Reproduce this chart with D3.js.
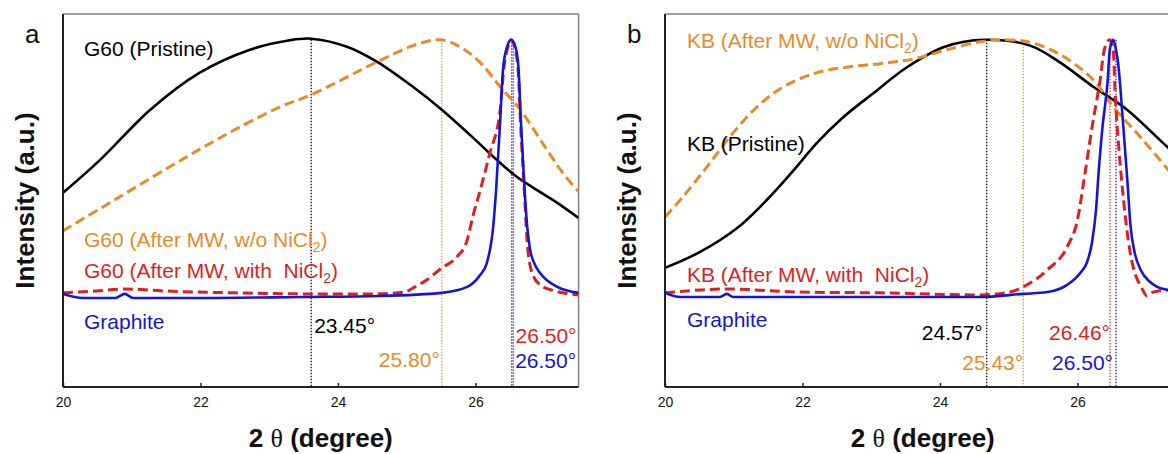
<!DOCTYPE html>
<html>
<head>
<meta charset="utf-8">
<script src="https://cdn.jsdelivr.net/npm/d3@7"></script>
<style>
body{margin:0;background:#fff}
svg{display:block}
text{font-family:"Liberation Sans",Arial,sans-serif}
</style>
</head>
<body>
<svg id="chart" width="1168" height="454"></svg>
<script>
// x ticks (2 theta, degree)
const xTicks = [20, 22, 24, 26]

// panel a: G60 samples, normalised intensity vs 2 theta
const g60Pristine = [[20,0.405],[20.54,0.533],[21.27,0.728],[21.99,0.872],[22.72,0.961],[23.3,0.998],[23.61,1.004],[24.13,0.973],[24.57,0.914],[25.09,0.817],[25.51,0.728],[25.92,0.63],[26.31,0.533],[26.6,0.467],[26.89,0.416],[27.19,0.366],[27.5,0.307]]
const g60MW = [[20,0.257],[20.73,0.374],[21.8,0.545],[22.47,0.646],[23.16,0.739],[23.61,0.786],[24.57,0.914],[25.09,0.977],[25.48,1.0],[25.77,0.973],[26.07,0.911],[26.36,0.817],[26.65,0.728],[27.04,0.572],[27.27,0.482],[27.5,0.409]]
const g60MWNi = [[20,0.016],[20.49,0.023],[20.9,0.031],[21.5,0.023],[22.5,0.016],[23.49,0.012],[24.49,0.012],[24.97,0.019],[25.09,0.035],[25.29,0.066],[25.51,0.113],[25.73,0.156],[25.88,0.222],[25.96,0.311],[26.07,0.416],[26.21,0.56],[26.36,0.728],[26.41,0.883],[26.47,0.969],[26.52,1.0],[26.57,0.969],[26.62,0.883],[26.66,0.65],[26.71,0.416],[26.75,0.222],[26.81,0.105],[26.94,0.047],[27.16,0.023],[27.5,0.008]]
const graphiteA = [[20,0.012],[20.29,-0.004],[20.76,-0.004],[20.9,0.012],[21.02,-0.004],[21.99,-0.004],[23.45,0.0],[24.61,0.004],[25.51,0.016],[25.88,0.039],[26.07,0.086],[26.16,0.128],[26.21,0.183],[26.25,0.253],[26.3,0.416],[26.36,0.689],[26.4,0.883],[26.46,0.973],[26.52,1.0],[26.57,0.981],[26.62,0.911],[26.66,0.689],[26.71,0.436],[26.75,0.28],[26.79,0.191],[26.86,0.128],[26.94,0.093],[27.19,0.039],[27.5,0.016]]
const peakPosA = [23.61, 25.51, 26.525, 26.548]
const peakTopA = [1.0, 1.0, 0.99, 0.99]
const peakTextA = ['23.45°', '25.80°', '26.50°', '26.50°']

// panel b: KB samples
const kbPristine = [[20,0.113],[20.51,0.175],[21.05,0.268],[21.48,0.377],[21.85,0.486],[22.21,0.599],[22.58,0.696],[23.02,0.79],[23.53,0.895],[24.07,0.973],[24.65,1.0],[25.31,0.977],[25.75,0.911],[26.23,0.817],[26.72,0.728],[27.32,0.58],[27.5,0.541]]
const kbMW = [[20,0.311],[20.26,0.389],[20.61,0.506],[20.99,0.638],[21.34,0.739],[21.72,0.817],[22.21,0.872],[22.69,0.895],[23.13,0.907],[23.61,0.925],[24.1,0.961],[24.58,0.992],[24.87,1.0],[25.31,0.99],[25.75,0.942],[26.23,0.844],[26.52,0.739],[26.95,0.611],[27.32,0.494],[27.5,0.436]]
const kbMWNi = [[20,0.016],[20.51,0.027],[20.9,0.031],[21.96,0.019],[23.13,0.016],[24.58,0.008],[25.02,0.019],[25.21,0.039],[25.56,0.105],[25.85,0.195],[26.0,0.3],[26.11,0.482],[26.23,0.689],[26.33,0.844],[26.39,0.961],[26.47,1.0],[26.52,0.961],[26.55,0.778],[26.6,0.584],[26.67,0.377],[26.76,0.183],[26.95,0.027],[27.01,0.004],[27.1,0.019],[27.32,0.027],[27.5,0.027]]
const graphiteB = [[20,0.016],[20.22,0.0],[20.8,0.0],[20.9,0.012],[20.99,0.0],[22.69,0.0],[24.58,0.0],[25.21,0.012],[25.56,0.019],[25.85,0.047],[26.04,0.093],[26.14,0.136],[26.21,0.21],[26.27,0.339],[26.31,0.494],[26.36,0.65],[26.44,0.844],[26.47,0.961],[26.52,1.0],[26.56,0.961],[26.59,0.911],[26.67,0.65],[26.73,0.436],[26.77,0.28],[26.83,0.175],[26.92,0.105],[27.04,0.062],[27.16,0.039],[27.32,0.027],[27.5,0.019]]
const peakPosB = [24.68, 25.21, 26.473, 26.56]
const peakTopB = [1.0, 0.973, 1.0, 1.0]
const peakTextB = ['24.57°', '25.43°', '26.46°', '26.50°']

const colBlack = '#000000'
const colOrange = '#e98a2a'
const colRed = '#e01e1e'
const colBlue = '#1414dc'

const svg = d3.select('#chart')
const plotTop = 14, plotBottom = 387, plotWidth = 515.6

function drawPanel(id, left, letter, series, peakPos, peakTop, peakText, labels, peakLabelPos){
    const x = d3.scaleLinear().domain([20, 27.5]).range([left, left + plotWidth])
    const y = d3.scaleLinear().domain([-0.35, 1.1]).range([plotBottom, plotTop])
    const g = svg.append('g')

    g.append('clipPath').attr('id', 'clip' + id)
        .append('rect')
        .attr('x', left).attr('y', plotTop)
        .attr('width', plotWidth).attr('height', plotBottom - plotTop)

    // frame: top/right grey, left/bottom dark
    g.append('line').attr('x1', left).attr('y1', plotTop).attr('x2', left + plotWidth).attr('y2', plotTop)
        .attr('stroke', '#808080').attr('stroke-width', 1.5)
    g.append('line').attr('x1', left + plotWidth).attr('y1', plotTop).attr('x2', left + plotWidth).attr('y2', plotBottom)
        .attr('stroke', '#808080').attr('stroke-width', 1.5)

    // dotted peak markers
    const dotCols = [colBlack, colOrange, colRed, colBlue]
    for(let i = 0; i < peakPos.length; i++){
        g.append('line')
            .attr('x1', x(peakPos[i])).attr('x2', x(peakPos[i]))
            .attr('y1', y(peakTop[i])).attr('y2', plotBottom)
            .attr('stroke', dotCols[i])
            .attr('stroke-width', 1.2)
            .attr('stroke-dasharray', '1.5,1.5')
    }

    // broad humps get a smooth spline, sharp peaks keep monotone so baselines don't ring
    const smooth = d3.line().x(d => x(d[0])).y(d => y(d[1])).curve(d3.curveCatmullRom.alpha(0.5))
    const sharp = d3.line().x(d => x(d[0])).y(d => y(d[1])).curve(d3.curveMonotoneX)
    const plot = g.append('g').attr('clip-path', `url(#clip${id})`)
    series.forEach(s => {
        plot.append('path')
            .attr('d', s.broad ? smooth(s.data) : sharp(s.data))
            .attr('fill', 'none')
            .attr('stroke', s.color)
            .attr('stroke-width', s.dash ? 3 : 2.6)
            .attr('stroke-dasharray', s.dash ? '10,5' : null)
            .attr('stroke-linejoin', 'round')
    })

    g.append('line').attr('x1', left).attr('y1', plotTop).attr('x2', left).attr('y2', plotBottom)
        .attr('stroke', '#222').attr('stroke-width', 2)
    g.append('line').attr('x1', left).attr('y1', plotBottom).attr('x2', left + plotWidth).attr('y2', plotBottom)
        .attr('stroke', '#222').attr('stroke-width', 2)

    const axis = g.append('g')
        .attr('transform', `translate(0,${plotBottom})`)
        .call(d3.axisBottom(x).tickValues(xTicks).tickSize(-4).tickPadding(10).tickFormat(d3.format('d')))
    axis.select('.domain').remove()
    axis.selectAll('.tick line').attr('stroke', '#222').attr('stroke-width', 1.5)
    axis.selectAll('text').attr('font-size', 14).attr('fill', '#111')
        .attr('font-family', '"Liberation Sans",Arial,sans-serif')

    // series labels
    labels.forEach(l => {
        const t = g.append('text')
            .attr('x', l.x).attr('y', l.y)
            .attr('fill', l.color).attr('font-size', 21)
            .style('white-space', 'pre')
        if(l.sub){
            t.append('tspan').text(l.text)
            t.append('tspan').attr('font-size', 14).attr('dy', 5).text('2')
            t.append('tspan').attr('dy', -5).text(')')
        }else{
            t.text(l.text)
        }
    })

    // peak value labels
    for(let i = 0; i < peakText.length; i++){
        const p = peakLabelPos[i]
        g.append('text')
            .attr('x', x(peakPos[i]) + p.dx).attr('y', p.y)
            .attr('text-anchor', p.anchor)
            .attr('fill', dotCols[i]).attr('font-size', 21)
            .text(peakText[i])
    }

    g.append('text').attr('x', left - 38).attr('y', 43)
        .attr('font-size', 26).attr('fill', '#111').text(letter)

    g.append('text')
        .attr('transform', `translate(${left - 29},${(plotTop + plotBottom) / 2}) rotate(-90)`)
        .attr('text-anchor', 'middle')
        .attr('font-size', 26).attr('font-weight', 'bold').attr('fill', '#111')
        .text('Intensity (a.u.)')

    const xt = g.append('text')
        .attr('x', left + plotWidth / 2).attr('y', 447)
        .attr('text-anchor', 'middle')
        .attr('font-size', 26).attr('font-weight', 'bold').attr('fill', '#111')
    xt.append('tspan').text('2 ')
    xt.append('tspan').attr('font-weight', 'normal').attr('font-family', '"Liberation Serif",serif').text('θ')
    xt.append('tspan').text(' (degree)')
}

drawPanel('a', 63, 'a',
    [{data: g60Pristine, color: colBlack, dash: false, broad: true},
     {data: g60MW, color: colOrange, dash: true, broad: true},
     {data: g60MWNi, color: colRed, dash: true},
     {data: graphiteA, color: colBlue, dash: false}],
    peakPosA, peakTopA, peakTextA,
    [{x: 84, y: 56, text: 'G60 (Pristine)', color: colBlack},
     {x: 84, y: 247, text: 'G60 (After MW, w/o NiCl', color: colOrange, sub: true},
     {x: 84, y: 278, text: 'G60 (After MW, with  NiCl', color: colRed, sub: true},
     {x: 84, y: 329, text: 'Graphite', color: colBlue}],
    [{dx: 3, y: 333, anchor: 'start'},
     {dx: -2, y: 367, anchor: 'end'},
     {dx: 4, y: 343, anchor: 'start'},
     {dx: 2, y: 368, anchor: 'start'}])

drawPanel('b', 665, 'b',
    [{data: kbPristine, color: colBlack, dash: false, broad: true},
     {data: kbMW, color: colOrange, dash: true, broad: true},
     {data: kbMWNi, color: colRed, dash: true},
     {data: graphiteB, color: colBlue, dash: false}],
    peakPosB, peakTopB, peakTextB,
    [{x: 687, y: 48, text: 'KB (After MW, w/o NiCl', color: colOrange, sub: true},
     {x: 687, y: 151, text: 'KB (Pristine)', color: colBlack},
     {x: 687, y: 282, text: 'KB (After MW, with  NiCl', color: colRed, sub: true},
     {x: 687, y: 327, text: 'Graphite', color: colBlue}],
    [{dx: -4, y: 340, anchor: 'end'},
     {dx: 0, y: 370, anchor: 'end'},
     {dx: 0, y: 340, anchor: 'end'},
     {dx: -3, y: 370, anchor: 'end'}])
</script>
</body>
</html>
